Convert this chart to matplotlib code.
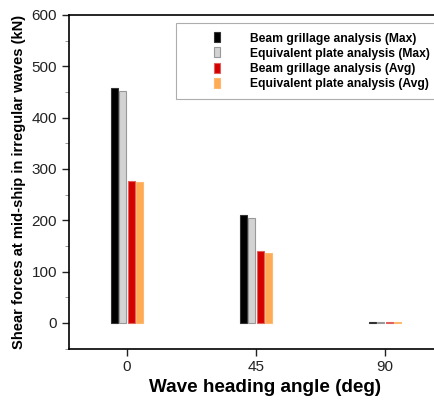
import numpy as np
import matplotlib.pyplot as plt

plt.rcParams['font.family'] = ['Liberation Sans', 'DejaVu Sans']

# Data
angles = ['0', '45', '90']
beam_max = [458, 210, 1.5]
plate_max = [452, 205, 1.5]
beam_avg = [277, 140, 1.5]
plate_avg = [274, 137, 1.5]

series = [
    ('Beam grillage analysis (Max)', beam_max, '#000000', '#333333'),
    ('Equivalent plate analysis (Max)', plate_max, '#d3d3d3', '#999999'),
    ('Beam grillage analysis (Avg)', beam_avg, '#d40000', '#e06060'),
    ('Equivalent plate analysis (Avg)', plate_avg, '#ffaa55', '#ffb870'),
]

fig = plt.figure(figsize=(4.35, 4.03), dpi=100)
# axes runs past the right edge of the figure, like the cropped original
ax = fig.add_axes([0.1586, 0.135, 0.90, 0.828])

x = np.arange(len(angles))
w = 0.066
for i, (label, vals, color, edge) in enumerate(series):
    ax.bar(x + (i - 1.5) * w, vals, width=w * 0.85, color=color,
           edgecolor=edge, linewidth=0.8, label=label)

ax.set_xlim(-0.45, 2.585)
ax.set_ylim(-50, 600)
ax.set_xticks(x)
ax.set_xticklabels(angles)
ax.set_yticks(np.arange(0, 601, 100))
ax.set_yticks(np.arange(-50, 601, 50), minor=True)
ax.tick_params(axis='both', labelsize=11, colors='#222222', length=5, width=1)
ax.tick_params(axis='y', which='minor', length=3, color='#888888')
for s in ax.spines.values():
    s.set_linewidth(1.2)

ax.set_xlabel('Wave heading angle (deg)', fontsize=13.6, fontweight='bold',
              labelpad=3)
ax.set_ylabel('Shear forces at mid-ship in irregular waves (kN)', fontsize=10.6,
              fontweight='bold', labelpad=4)

fs = 8.7
leg = ax.legend(loc='upper left', bbox_to_anchor=(0.2735, 0.976),
                prop={'weight': 'bold', 'size': fs}, frameon=True, fancybox=False,
                edgecolor='#999999', handlelength=2.85, handleheight=0.9,
                handletextpad=2.48, labelspacing=0.24, borderpad=0.78,
                borderaxespad=0)
leg.get_frame().set_linewidth(0.8)
for h in leg.legend_handles:
    h.set_x(20.5)
    h.set_width(4.3)

fig.savefig('out.png', dpi=100)
